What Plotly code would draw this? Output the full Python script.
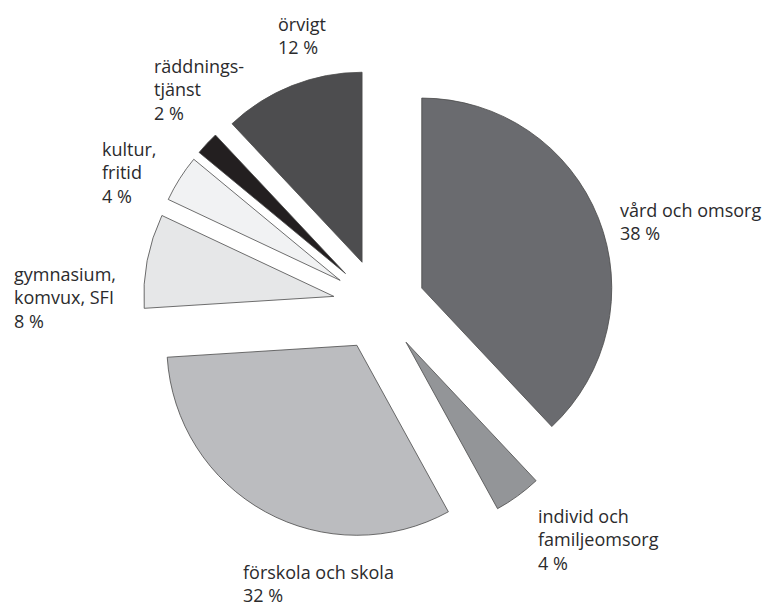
import plotly.graph_objects as go

# ---- data ----
labels = ["vård och omsorg", "individ och familjeomsorg", "förskola och skola",
          "gymnasium, komvux, SFI", "kultur, fritid", "räddningstjänst", "örvigt"]
label_text = ["vård och omsorg", "individ och<br>familjeomsorg", "förskola och skola",
              "gymnasium,<br>komvux, SFI", "kultur,<br>fritid", "räddnings-<br>tjänst", "örvigt"]
values = [38, 4, 32, 8, 4, 2, 12]

# ---- style ----
colors = ["#6a6b6f", "#939598", "#bbbcbf", "#e6e7e8", "#f1f2f3", "#231f20", "#4d4d4f"]
W, H = 770, 606
# label anchor (left x, first-line baseline y) in pixels
label_pos = [(619, 216), (537, 522), (242, 578), (13, 280), (101, 155), (153, 72), (277, 30)]
FS = 18
FONT = "Open Sans"

cx, cy, R, pull = 379, 305, 190, 0.242
half = R * (1 + pull)

fig = go.Figure(go.Pie(
    labels=labels,
    values=values,
    sort=False,
    direction="clockwise",
    rotation=0,
    pull=[pull] * len(values),
    marker=dict(colors=colors, line=dict(color="#4a4a4a", width=0.8)),
    textinfo="none",
    hoverinfo="label+value",
    showlegend=False,
    domain=dict(x=[(cx - half) / W, (cx + half) / W],
                y=[1 - (cy + half) / H, 1 - (cy - half) / H]),
))

for t, v, (px, py) in zip(label_text, values, label_pos):
    fig.add_annotation(
        text=f"{t}<br>{v} %",
        xref="paper", yref="paper",
        x=px / W, y=1 - (py - FS * 1.05) / H,
        xanchor="left", yanchor="top", align="left",
        showarrow=False,
        font=dict(family=FONT, size=FS, color="#2b2b2d"),
        borderpad=0,
    )

fig.update_layout(
    width=W, height=H,
    margin=dict(l=0, r=0, t=0, b=0),
    paper_bgcolor="white",
    plot_bgcolor="white",
)

fig.write_html("out.html",
               config={"displayModeBar": False},
               post_script="document.body.style.margin='0';document.body.style.overflow='hidden';")
